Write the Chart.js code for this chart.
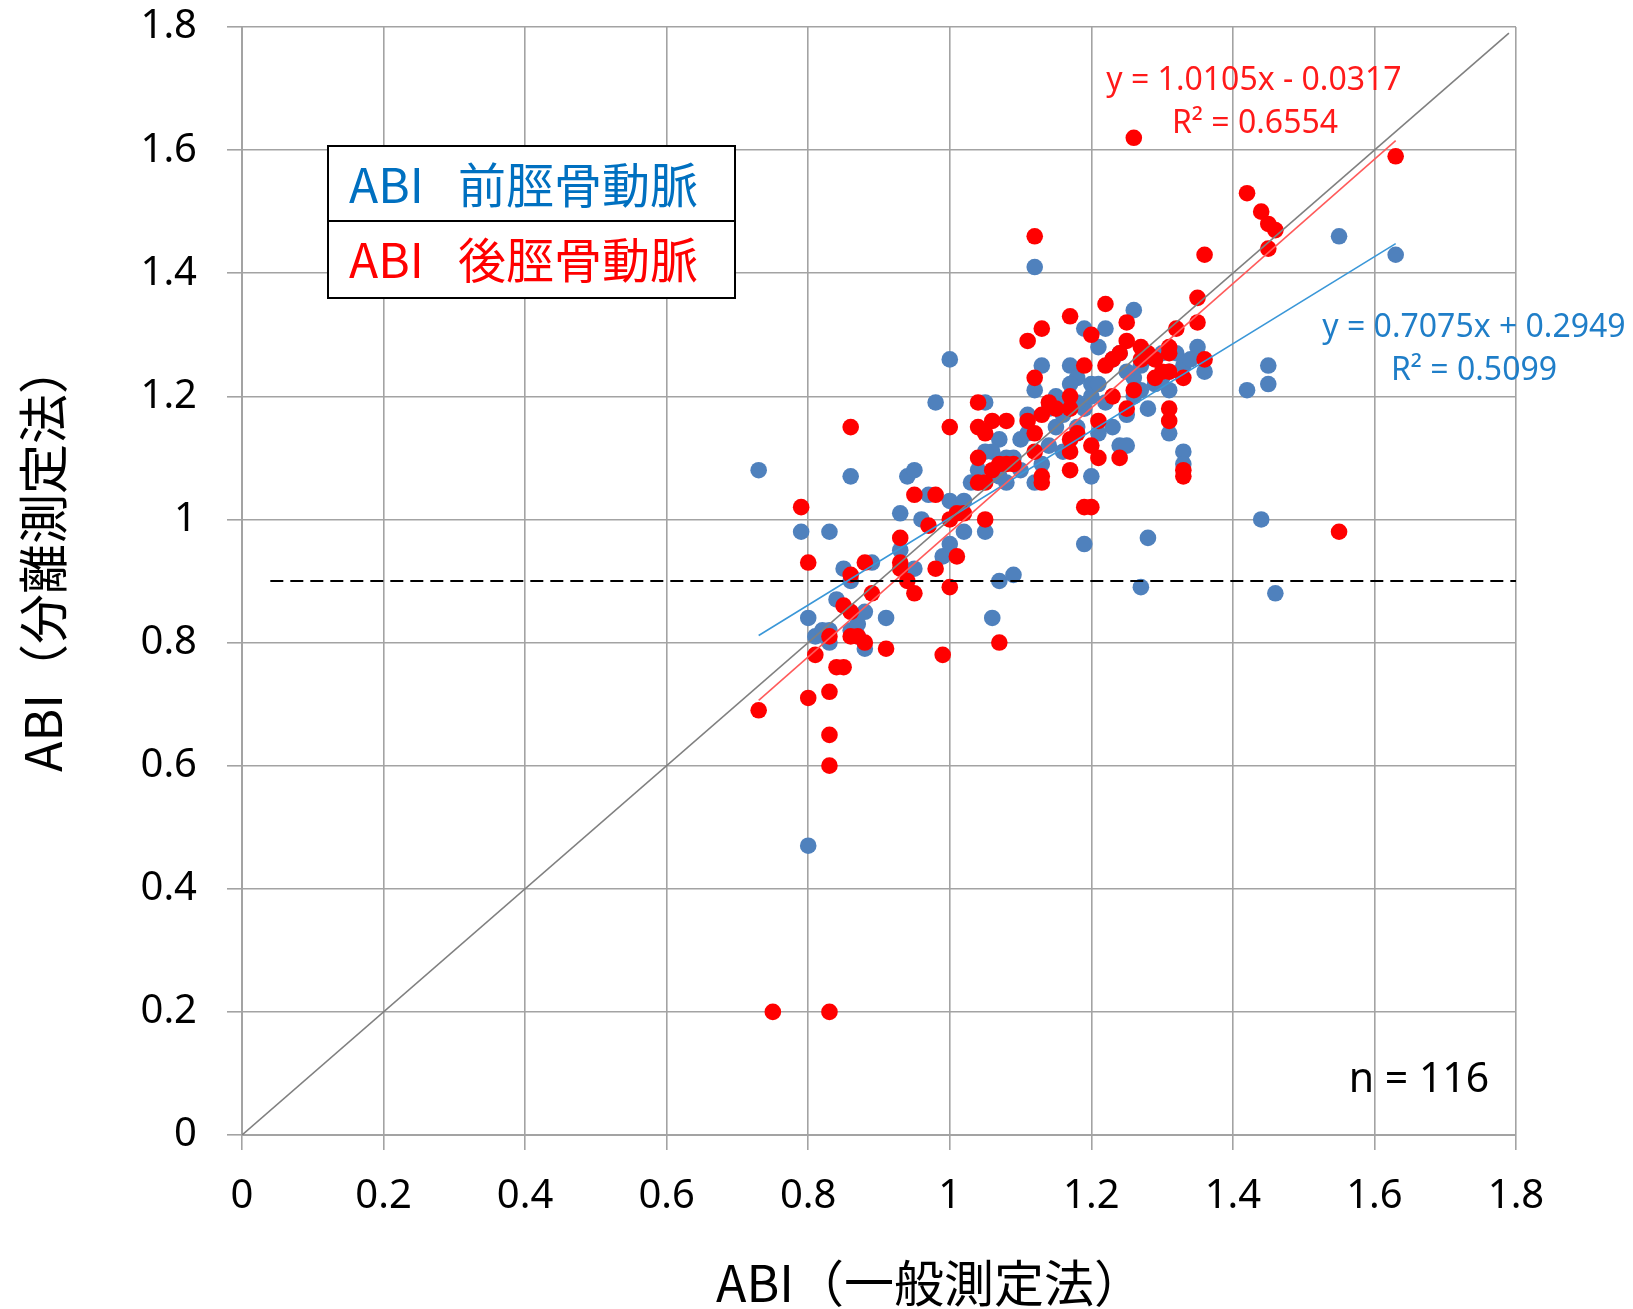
<!DOCTYPE html>
<html lang="ja">
<head>
<meta charset="utf-8">
<title>ABI 一般測定法と分離測定法</title>
<script src="https://cdn.jsdelivr.net/npm/chart.js@4.4.1/dist/chart.umd.min.js"></script>
<style>
  html, body { margin: 0; padding: 0; background: #ffffff; }
  canvas { display: block; }
</style>
</head>
<body>
<canvas id="abi" width="1633" height="1309"></canvas>
<script>
// ABI by the general method (x) against the separated method (y), one point per limb.
const anteriorX = [0.73,0.79,0.83,0.86,0.80,0.80,0.81,0.83,0.83,0.84,0.85,0.86,0.86,0.87,0.88,0.88,0.89,0.91,0.93,0.93,
  0.94,0.95,0.95,0.97,0.98,0.99,1.00,1.00,1.00,1.02,1.05,1.06,1.07,1.09,1.05,1.07,1.08,1.04,1.04,1.08,
  1.12,1.12,1.13,1.17,1.18,1.17,1.12,1.11,1.19,1.19,1.22,1.21,1.26,1.21,1.25,1.24,1.25,1.13,1.20,1.19,
  1.27,1.28,1.35,1.32,1.36,1.33,1.31,1.31,1.33,1.33,1.45,1.45,1.42,1.44,1.46,1.55,1.63,1.15,1.16,1.23,
  1.24,1.27,1.29,1.30,1.14,1.10,1.09,1.16,1.18,1.22,1.26,1.28,1.02,1.03,1.06,1.10,0.96,1.16,1.20,0.82,
  1.26,1.15,1.20,1.23,1.27,1.30,1.34,1.11,1.05,0.87,1.14,1.25,1.31,1.18,1.21,1.07];
const anteriorY = [1.08,0.98,0.98,1.07,0.84,0.47,0.81,0.82,0.80,0.87,0.92,0.90,0.82,0.83,0.85,0.79,0.93,0.84,1.01,0.95,
  1.07,1.08,0.92,1.04,1.19,0.94,1.26,1.03,0.96,0.98,0.98,0.84,0.90,0.91,1.19,1.13,1.10,1.08,1.06,1.06,
  1.06,1.41,1.25,1.25,1.23,1.22,1.21,1.17,1.18,1.31,1.31,1.28,1.34,1.14,1.17,1.12,1.12,1.09,1.07,0.96,
  0.89,0.97,1.28,1.27,1.24,1.25,1.21,1.14,1.11,1.09,1.25,1.22,1.21,1.00,0.88,1.46,1.43,1.15,1.17,1.26,
  1.27,1.25,1.22,1.23,1.12,1.08,1.10,1.11,1.15,1.19,1.20,1.18,1.03,1.06,1.11,1.13,1.00,1.19,1.20,0.82,
  1.23,1.20,1.22,1.15,1.21,1.27,1.26,1.14,1.11,0.81,1.18,1.24,1.24,1.19,1.22,1.07];

const posteriorX = [0.73,0.75,0.83,0.79,0.80,0.80,0.81,0.83,0.83,0.83,0.83,0.84,0.85,0.85,0.86,0.86,0.86,0.87,0.88,0.88,
  0.89,0.86,0.91,0.93,0.93,0.93,0.94,0.95,0.95,0.98,0.97,0.98,0.99,1.00,1.01,1.00,1.01,1.00,1.02,1.05,
  1.07,1.04,1.04,1.05,1.06,1.08,1.04,1.05,1.06,1.07,1.08,1.09,1.04,1.12,1.11,1.13,1.17,1.22,1.20,1.25,
  1.25,1.24,1.27,1.28,1.29,1.27,1.26,1.23,1.25,1.22,1.19,1.12,1.11,1.12,1.13,1.14,1.15,1.17,1.17,1.18,
  1.17,1.17,1.21,1.21,1.20,1.24,1.12,1.13,1.13,1.17,1.19,1.20,1.26,1.35,1.35,1.32,1.31,1.31,1.36,1.29,
  1.31,1.33,1.31,1.31,1.33,1.33,1.36,1.42,1.44,1.45,1.46,1.45,1.55,1.63,1.30,1.23];
const posteriorY = [0.69,0.20,0.20,1.02,0.93,0.71,0.78,0.72,0.65,0.60,0.81,0.76,0.76,0.86,0.85,0.91,0.81,0.81,0.80,0.93,
  0.88,1.15,0.79,0.97,0.93,0.92,0.90,0.88,1.04,1.04,0.99,0.92,0.78,1.00,1.01,0.89,0.94,1.15,1.01,1.00,
  0.80,1.19,1.15,1.14,1.16,1.16,1.10,1.06,1.08,1.09,1.09,1.09,1.06,1.46,1.29,1.31,1.33,1.35,1.30,1.32,
  1.29,1.27,1.28,1.27,1.23,1.26,1.21,1.20,1.18,1.25,1.25,1.23,1.16,1.14,1.17,1.19,1.18,1.20,1.18,1.14,
  1.13,1.11,1.16,1.10,1.12,1.10,1.11,1.07,1.06,1.08,1.02,1.02,1.62,1.36,1.32,1.31,1.28,1.27,1.26,1.26,
  1.24,1.23,1.18,1.16,1.08,1.07,1.43,1.53,1.50,1.48,1.47,1.44,0.98,1.59,1.24,1.26];

const seriesPrefix = 'ABI';
const seriesNames = ['前脛骨動脈', '後脛骨動脈'];
const axisTitles = ['ABI（一般測定法）', 'ABI（分離測定法）'];
const tickLabels = ['0', '0.2', '0.4', '0.6', '0.8', '1', '1.2', '1.4', '1.6', '1.8'];
const anteriorFit = [0.7075, 0.2949];   // slope, intercept
const posteriorFit = [1.0105, -0.0317];
const anteriorR2 = '0.5099';
const posteriorR2 = '0.6554';
const sampleSize = 116;
const cutoff = 0.9;                      // ABI threshold
const cutoffRange = [0.04, 1.8];
const identityRange = [0, 1.79];

const BLUE = '#4F81BD';
const RED = '#FF0000';
const GRID = '#a3a3a3';
const LATIN = '"Noto Sans", "DejaVu Sans", sans-serif';
const CJK = '"Noto Sans CJK JP", "Noto Sans", sans-serif';

const toPoints = (xs, ys) => xs.map((x, i) => ({ x, y: ys[i] }));
const fitLine = (xs, fit) => {
  const lo = Math.min(...xs), hi = Math.max(...xs);
  return [{ x: lo, y: fit[0] * lo + fit[1] }, { x: hi, y: fit[0] * hi + fit[1] }];
};
const fmtEq = fit => 'y = ' + fit[0].toFixed(4) + 'x ' + (fit[1] < 0 ? '- ' : '+ ') + Math.abs(fit[1]).toFixed(4);

// Annotations: axis titles, regression equations, sample size and the boxed series key.
const annotations = {
  id: 'annotations',
  afterDraw(chart) {
    const ctx = chart.ctx;
    ctx.save();

    // axis titles
    ctx.fillStyle = '#000000';
    ctx.font = '50px ' + CJK;
    ctx.textAlign = 'left';
    ctx.textBaseline = 'middle';
    ctx.fillText(axisTitles[0], 716, 1283);
    ctx.save();
    ctx.translate(43, 772);
    ctx.rotate(-Math.PI / 2);
    ctx.fillText(axisTitles[1], 0, 0);
    ctx.restore();

    // regression equations
    ctx.textAlign = 'center';
    ctx.font = '32px ' + LATIN;
    ctx.fillStyle = '#FF1A1A';
    ctx.fillText(fmtEq(posteriorFit), 1254, 81);
    ctx.fillText('R² = ' + posteriorR2, 1255, 124);
    ctx.fillStyle = '#1F7EC8';
    ctx.fillText(fmtEq(anteriorFit), 1474, 328);
    ctx.fillText('R² = ' + anteriorR2, 1474, 371);

    ctx.fillStyle = '#000000';
    ctx.font = '41px ' + LATIN;
    ctx.fillText('n = ' + sampleSize, 1419, 1080);

    // key box
    const L = 328, T = 146, R = 735, B = 298, M = 221;
    ctx.fillStyle = '#ffffff';
    ctx.fillRect(L, T, R - L, B - T);
    ctx.strokeStyle = '#000000';
    ctx.lineWidth = 2;
    ctx.strokeRect(L, T, R - L, B - T);
    ctx.beginPath();
    ctx.moveTo(L, M);
    ctx.lineTo(R, M);
    ctx.stroke();
    ctx.textAlign = 'left';
    ctx.font = '48px ' + CJK;
    [['#0070C0', 185], ['#FF0000', 260]].forEach(([color, y], i) => {
      ctx.fillStyle = color;
      ctx.fillText(seriesPrefix, 349, y);
      ctx.fillText(seriesNames[i], 458, y);
    });
    ctx.restore();
  }
};

const axisTicks = {
  color: '#000000',
  font: { family: LATIN, size: 40 },
  callback: (v, i) => tickLabels[i]
};

new Chart(document.getElementById('abi'), {
  type: 'scatter',
  data: {
    datasets: [
      { label: 'cutoff', type: 'line', data: [{ x: cutoffRange[0], y: cutoff }, { x: cutoffRange[1], y: cutoff }],
        borderColor: '#000000', borderWidth: 2, borderDash: [13, 7], pointRadius: 0, fill: false, order: 0 },
      { label: 'y = x', type: 'line', data: [{ x: identityRange[0], y: identityRange[0] }, { x: identityRange[1], y: identityRange[1] }],
        borderColor: '#808080', borderWidth: 1.6, pointRadius: 0, fill: false, order: 1 },
      { label: seriesNames[1] + ' 近似', type: 'line', data: fitLine(posteriorX, posteriorFit),
        borderColor: '#FF5B5B', borderWidth: 1.6, pointRadius: 0, fill: false, order: 2 },
      { label: seriesNames[0] + ' 近似', type: 'line', data: fitLine(anteriorX, anteriorFit),
        borderColor: '#3A97D8', borderWidth: 1.6, pointRadius: 0, fill: false, order: 3 },
      { label: seriesNames[1], data: toPoints(posteriorX, posteriorY),
        backgroundColor: RED, borderWidth: 0, pointRadius: 8.3, order: 4 },
      { label: seriesNames[0], data: toPoints(anteriorX, anteriorY),
        backgroundColor: BLUE, borderWidth: 0, pointRadius: 8.3, order: 5 }
    ]
  },
  options: {
    responsive: false,
    animation: false,
    devicePixelRatio: 1,
    layout: { padding: { top: 27, right: 117, bottom: 0, left: 0 } },
    plugins: { legend: { display: false }, tooltip: { enabled: false } },
    scales: {
      x: {
        type: 'linear', min: 0, max: 1.8,
        ticks: Object.assign({ stepSize: 0.2, padding: 23 }, axisTicks),
        grid: { color: GRID, lineWidth: 1.6, tickLength: 15, tickColor: GRID },
        border: { color: GRID, width: 2 },
        afterFit: s => { s.height = 174; }
      },
      y: {
        type: 'linear', min: 0, max: 1.8,
        ticks: Object.assign({ stepSize: 0.2, padding: 30 }, axisTicks),
        grid: { color: GRID, lineWidth: 1.6, tickLength: 15, tickColor: GRID },
        border: { color: GRID, width: 2 },
        afterFit: s => { s.width = 242; s.paddingTop = 0; s.paddingBottom = 0; }
      }
    }
  },
  plugins: [annotations]
});
</script>
</body>
</html>
